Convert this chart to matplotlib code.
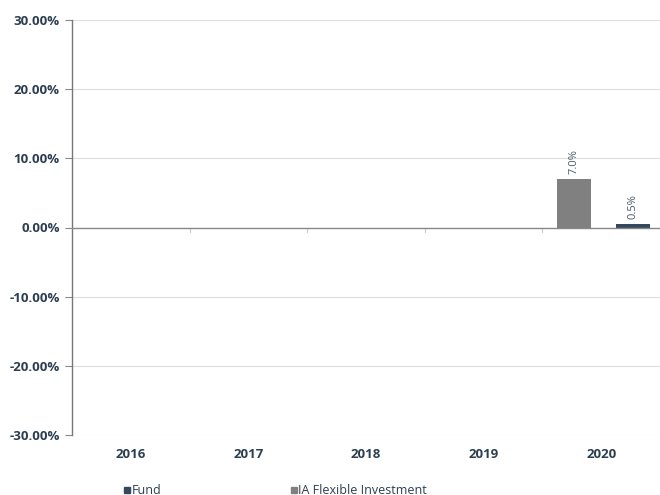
import matplotlib
matplotlib.use("Agg")
import matplotlib.pyplot as plt
from matplotlib.patches import Rectangle
import numpy as np

years = ["2016", "2017", "2018", "2019", "2020"]
fund = [None, None, None, None, 0.5]
ia_flex = [None, None, None, None, 7.0]
yticks = [-30, -20, -10, 0, 10, 20, 30]

dark = "#34495e"
grey = "#808080"
text_c = "#2c3e50"

plt.rcParams['font.family'] = ['Open Sans', 'DejaVu Sans']

fig = plt.figure(figsize=(6.6, 4.95), dpi=100)
ax = fig.add_axes([72/660, 1-435/495, 588/660, 415/495])

x = np.arange(len(years))
bw = 0.29
for i, v in enumerate(ia_flex):
    if v is not None:
        ax.bar(x[i] - 0.23, v, width=bw, color=grey, zorder=3)
        ax.text(x[i] - 0.23, v + 0.8, f"{v:.1f}%", rotation=90, ha='center', va='bottom',
                fontsize=8, color="#4a5a6a")
for i, v in enumerate(fund):
    if v is not None:
        ax.bar(x[i] + 0.27, v, width=bw, color=dark, zorder=3)
        ax.text(x[i] + 0.27, v + 0.8, f"{v:.1f}%", rotation=90, ha='center', va='bottom',
                fontsize=8, color="#4a5a6a")

ax.set_xlim(-0.5, len(years) - 0.5)
ax.set_ylim(-30, 30)
ax.set_yticks(yticks)
ax.set_yticklabels([f"{t:.2f}%" for t in yticks], fontsize=9.5, fontweight='bold', color=text_c)
ax.set_xticks(x)
ax.set_xticklabels(years, fontsize=9.5, fontweight='bold', color=text_c)
ax.tick_params(axis='x', length=0, pad=9)
ax.tick_params(axis='y', length=5, color="#888888", pad=4)

for t in yticks:
    if t != 0:
        ax.axhline(t, color="#dddddd", lw=0.8, zorder=1)
ax.axhline(0, color="#888888", lw=1.0, zorder=4)
for b in np.arange(0.5, len(years) - 0.5, 1):
    ax.plot([b, b], [0, -0.7], color="#cccccc", lw=0.8, zorder=2, clip_on=False)

for s in ['top', 'right', 'bottom']:
    ax.spines[s].set_visible(False)
ax.spines['left'].set_color("#777777")
ax.spines['left'].set_linewidth(1.0)

# legend
ly = 1 - 490/495
sq_w, sq_h = 6/660, 6/495
fig.patches.append(Rectangle((124/660, ly - sq_h/2), sq_w, sq_h, transform=fig.transFigure,
                             color=dark, figure=fig))
fig.text(132/660, ly, "Fund", fontsize=9, color=text_c, va='center', ha='left')
fig.patches.append(Rectangle((291/660, ly - sq_h/2), sq_w, sq_h, transform=fig.transFigure,
                             color=grey, figure=fig))
fig.text(298/660, ly, "IA Flexible Investment", fontsize=9, color=text_c, va='center', ha='left')

fig.savefig("out.png", dpi=100)
